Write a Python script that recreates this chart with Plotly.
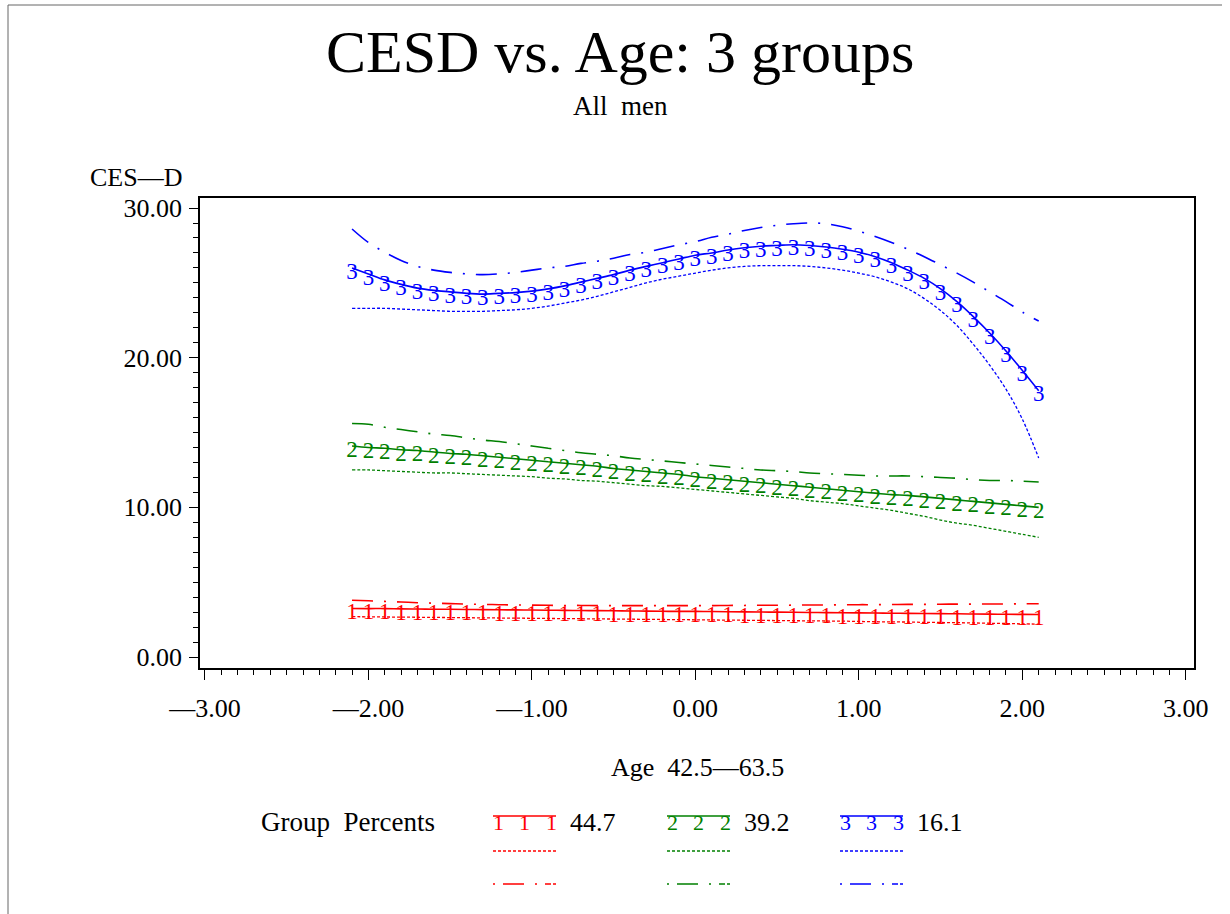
import plotly.graph_objects as go

# ---------------- data ----------------
age = [-2.1, -2.0, -1.9, -1.8, -1.7, -1.6, -1.5, -1.4, -1.3, -1.2, -1.1,
       -1.0, -0.9, -0.8, -0.7, -0.6, -0.5, -0.4, -0.3, -0.2, -0.1,
       0.0, 0.1, 0.2, 0.3, 0.4, 0.5, 0.6, 0.7, 0.8, 0.9, 1.0,
       1.1, 1.2, 1.3, 1.4, 1.5, 1.6, 1.7, 1.8, 1.9, 2.0, 2.1]

g1_mid = [3.25, 3.24, 3.24, 3.22, 3.21, 3.20, 3.19, 3.18, 3.17, 3.16, 3.15,
          3.14, 3.13, 3.12, 3.11, 3.10, 3.09, 3.08, 3.07, 3.06, 3.05,
          3.05, 3.04, 3.03, 3.02, 3.01, 3.00, 2.99, 2.98, 2.97, 2.96, 2.95,
          2.94, 2.93, 2.92, 2.91, 2.90, 2.89, 2.88, 2.87, 2.86, 2.85, 2.84]
g1_lo = [2.70, 2.69, 2.68, 2.67, 2.66, 2.65, 2.64, 2.63, 2.62, 2.61, 2.60,
         2.59, 2.58, 2.57, 2.56, 2.55, 2.54, 2.53, 2.52, 2.51, 2.50,
         2.49, 2.48, 2.47, 2.46, 2.45, 2.44, 2.43, 2.42, 2.41, 2.40, 2.38,
         2.36, 2.35, 2.34, 2.32, 2.31, 2.30, 2.28, 2.26, 2.24, 2.22, 2.20]
g1_hi = [3.80, 3.76, 3.72, 3.68, 3.63, 3.60, 3.57, 3.54, 3.52, 3.50, 3.48,
         3.47, 3.46, 3.45, 3.45, 3.44, 3.44, 3.44, 3.44, 3.44, 3.44,
         3.44, 3.44, 3.45, 3.45, 3.46, 3.46, 3.47, 3.48, 3.48, 3.49, 3.50,
         3.50, 3.51, 3.52, 3.52, 3.53, 3.54, 3.54, 3.55, 3.55, 3.56, 3.56]

g2_mid = [14.1, 14.0, 13.95, 13.85, 13.8, 13.7, 13.6, 13.55, 13.45, 13.35, 13.25,
          13.15, 13.05, 12.95, 12.85, 12.75, 12.6, 12.5, 12.4, 12.3, 12.2,
          12.05, 11.95, 11.85, 11.75, 11.65, 11.55, 11.45, 11.35, 11.25, 11.15, 11.05,
          10.95, 10.85, 10.8, 10.7, 10.6, 10.5, 10.4, 10.3, 10.2, 10.1, 10.0]
g2_lo = [12.5, 12.5, 12.45, 12.4, 12.35, 12.3, 12.3, 12.25, 12.2, 12.15, 12.1,
         12.05, 11.95, 11.9, 11.8, 11.75, 11.65, 11.55, 11.45, 11.4, 11.3,
         11.2, 11.1, 11.0, 10.9, 10.8, 10.7, 10.6, 10.45, 10.35, 10.25, 10.1,
         9.95, 9.8, 9.6, 9.4, 9.15, 8.95, 8.8, 8.6, 8.4, 8.2, 8.0]
g2_hi = [15.6, 15.55, 15.35, 15.2, 15.05, 14.9, 14.8, 14.65, 14.5, 14.4, 14.25,
         14.1, 13.95, 13.8, 13.65, 13.55, 13.45, 13.3, 13.2, 13.1, 13.0,
         12.9, 12.8, 12.7, 12.6, 12.5, 12.45, 12.4, 12.3, 12.25, 12.2, 12.15,
         12.1, 12.1, 12.1, 12.05, 12.0, 11.95, 11.85, 11.8, 11.8, 11.75, 11.7]

g3_mid = [26.0, 25.6, 25.2, 24.9, 24.65, 24.5, 24.4, 24.3, 24.25, 24.3, 24.35,
          24.45, 24.6, 24.8, 25.05, 25.3, 25.55, 25.85, 26.1, 26.35, 26.6,
          26.85, 27.0, 27.2, 27.35, 27.45, 27.5, 27.55, 27.5, 27.4, 27.25, 27.05,
          26.75, 26.35, 25.85, 25.3, 24.6, 23.75, 22.75, 21.65, 20.45, 19.15, 17.8]
g3_lo = [23.3, 23.3, 23.3, 23.25, 23.2, 23.15, 23.1, 23.1, 23.1, 23.15, 23.2,
         23.3, 23.45, 23.65, 23.85, 24.1, 24.4, 24.7, 25.0, 25.25, 25.45,
         25.65, 25.85, 26.0, 26.1, 26.15, 26.15, 26.15, 26.1, 26.0, 25.85, 25.65,
         25.4, 25.05, 24.6, 23.95, 23.15, 22.15, 20.9, 19.5, 17.9, 15.9, 13.3]
g3_hi = [28.6, 27.7, 27.05, 26.5, 26.1, 25.85, 25.7, 25.6, 25.55, 25.6, 25.7,
         25.85, 26.0, 26.1, 26.3, 26.45, 26.65, 26.9, 27.05, 27.3, 27.55,
         27.75, 28.05, 28.25, 28.5, 28.7, 28.85, 28.95, 29.0, 28.95, 28.75, 28.45,
         28.1, 27.7, 27.25, 26.75, 26.2, 25.65, 25.05, 24.4, 23.75, 23.05, 22.45]

group_symbols = ["1", "2", "3"]
group_percents = ["44.7", "39.2", "16.1"]
group_colors = ["#FF0000", "#008000", "#0000FF"]

x_ticks = [-3, -2, -1, 0, 1, 2, 3]
x_ticktext = ["\u20143.00", "\u20142.00", "\u20141.00", "0.00", "1.00", "2.00", "3.00"]
y_ticks = [0, 10, 20, 30]
y_ticktext = ["0.00", "10.00", "20.00", "30.00"]

title_text = "CESD vs. Age: 3 groups"
subtitle_text = "All  men"
ylabel_text = "CES\u2014D"
xlabel_text = "Age  42.5\u201463.5"
legend_title = "Group  Percents"

# ---------------- figure ----------------
FONT = "Liberation Serif"
W, H = 1230, 914
L, R, T, B = 200, 36, 198, 246
PW, PH = W - L - R, H - T - B
Y0, Y1 = -0.73, 30.67
SYM_SHIFT = 5 * (Y1 - Y0) / PH   # glyphs hang ~5px below the curve


def px(xp):
    return (xp - L) / PW


def py(yp):
    return (H - B - yp) / PH


DOT = "3px,2px"
DASHDOT = "21px,11px,2px,11px"

fig = go.Figure()
groups = [(g1_mid, g1_lo, g1_hi), (g2_mid, g2_lo, g2_hi), (g3_mid, g3_lo, g3_hi)]
for (mid, lo, hi), sym, col in zip(groups, group_symbols, group_colors):
    fig.add_trace(go.Scatter(x=age, y=lo, mode="lines",
                             line=dict(color=col, width=1.3, dash=DOT, shape="spline"),
                             showlegend=False, hoverinfo="skip"))
    fig.add_trace(go.Scatter(x=age, y=hi, mode="lines",
                             line=dict(color=col, width=1.6, dash=DASHDOT, shape="spline"),
                             showlegend=False, hoverinfo="skip"))
    fig.add_trace(go.Scatter(x=age, y=mid, mode="lines",
                             line=dict(color=col, width=1.6, shape="spline"),
                             showlegend=False))
    fig.add_trace(go.Scatter(x=age, y=[v - SYM_SHIFT for v in mid], mode="text",
                             text=[sym] * len(age), textposition="middle center",
                             textfont=dict(family=FONT, size=23, color=col),
                             showlegend=False, hoverinfo="skip"))

fig.update_layout(
    width=W, height=H,
    margin=dict(l=L, r=R, t=T, b=B, pad=0),
    paper_bgcolor="white", plot_bgcolor="white",
    showlegend=False,
    font=dict(family=FONT, size=26, color="black"),
    xaxis=dict(range=[-3.03, 3.05], tickvals=x_ticks, ticktext=x_ticktext,
               showgrid=False, zeroline=False, showline=True, linecolor="black",
               linewidth=1.5, mirror=True, ticks="outside", ticklen=10,
               tickwidth=1.2, tickcolor="black", ticklabelstandoff=6,
               tickfont=dict(family=FONT, size=26),
               minor=dict(dtick=0.1, tick0=-3, ticks="outside", ticklen=5,
                          tickwidth=1, tickcolor="black", showgrid=False)),
    yaxis=dict(range=[Y0, Y1], tickvals=y_ticks, ticktext=y_ticktext,
               showgrid=False, zeroline=False, showline=True, linecolor="black",
               linewidth=1.5, mirror=True, ticks="outside", ticklen=9,
               tickwidth=1.2, tickcolor="black", ticklabelstandoff=2,
               tickfont=dict(family=FONT, size=26),
               minor=dict(dtick=1, tick0=0, ticks="outside", ticklen=5,
                          tickwidth=1, tickcolor="black", showgrid=False)),
)

ann = []
shapes = []
# titles
ann.append(dict(text=title_text, x=px(620), y=py(52), xref="paper", yref="paper",
                showarrow=False, font=dict(family=FONT, size=60), xanchor="center", yanchor="middle"))
ann.append(dict(text=subtitle_text, x=px(620), y=py(106), xref="paper", yref="paper",
                showarrow=False, font=dict(family=FONT, size=27), xanchor="center", yanchor="middle"))
ann.append(dict(text=ylabel_text, x=px(88), y=py(177), xref="paper", yref="paper",
                showarrow=False, font=dict(family=FONT, size=26), xanchor="left", yanchor="middle"))
ann.append(dict(text=xlabel_text, x=px(697), y=py(767), xref="paper", yref="paper",
                showarrow=False, font=dict(family=FONT, size=26), xanchor="center", yanchor="middle"))
ann.append(dict(text=legend_title, x=px(259), y=py(822), xref="paper", yref="paper",
                showarrow=False, font=dict(family=FONT, size=27), xanchor="left", yanchor="middle"))

# legend samples
starts = [493, 667, 840]
for s0, sym, pct, col in zip(starts, group_symbols, group_percents, group_colors):
    x0, x1 = s0, s0 + 63
    shapes.append(dict(type="line", xref="paper", yref="paper", x0=px(x0), x1=px(x1),
                       y0=py(816), y1=py(816), line=dict(color=col, width=1.6)))
    for gx in (x0 + 5, x0 + 31, x0 + 58):
        ann.append(dict(text=sym, x=px(gx), y=py(822), xref="paper", yref="paper",
                        showarrow=False, font=dict(family=FONT, size=22, color=col),
                        xanchor="center", yanchor="middle"))
    ann.append(dict(text=pct, x=px(x1 + 12), y=py(822), xref="paper", yref="paper",
                    showarrow=False, font=dict(family=FONT, size=26), xanchor="left", yanchor="middle"))
    shapes.append(dict(type="line", xref="paper", yref="paper", x0=px(x0), x1=px(x1),
                       y0=py(851), y1=py(851), line=dict(color=col, width=1.3, dash=DOT)))
    shapes.append(dict(type="line", xref="paper", yref="paper", x0=px(x0), x1=px(x1),
                       y0=py(884), y1=py(884), line=dict(color=col, width=1.6, dash="2px,8px,21px,11px,2px,8px,6px")))

# outer frame (left and top)
shapes.append(dict(type="line", xref="paper", yref="paper", x0=px(8), x1=px(8),
                   y0=py(5), y1=py(914), line=dict(color="#666", width=1)))
shapes.append(dict(type="line", xref="paper", yref="paper", x0=px(8), x1=px(1222),
                   y0=py(5), y1=py(5), line=dict(color="#666", width=1)))

fig.update_layout(annotations=ann, shapes=shapes)
fig.write_html("out.html")
